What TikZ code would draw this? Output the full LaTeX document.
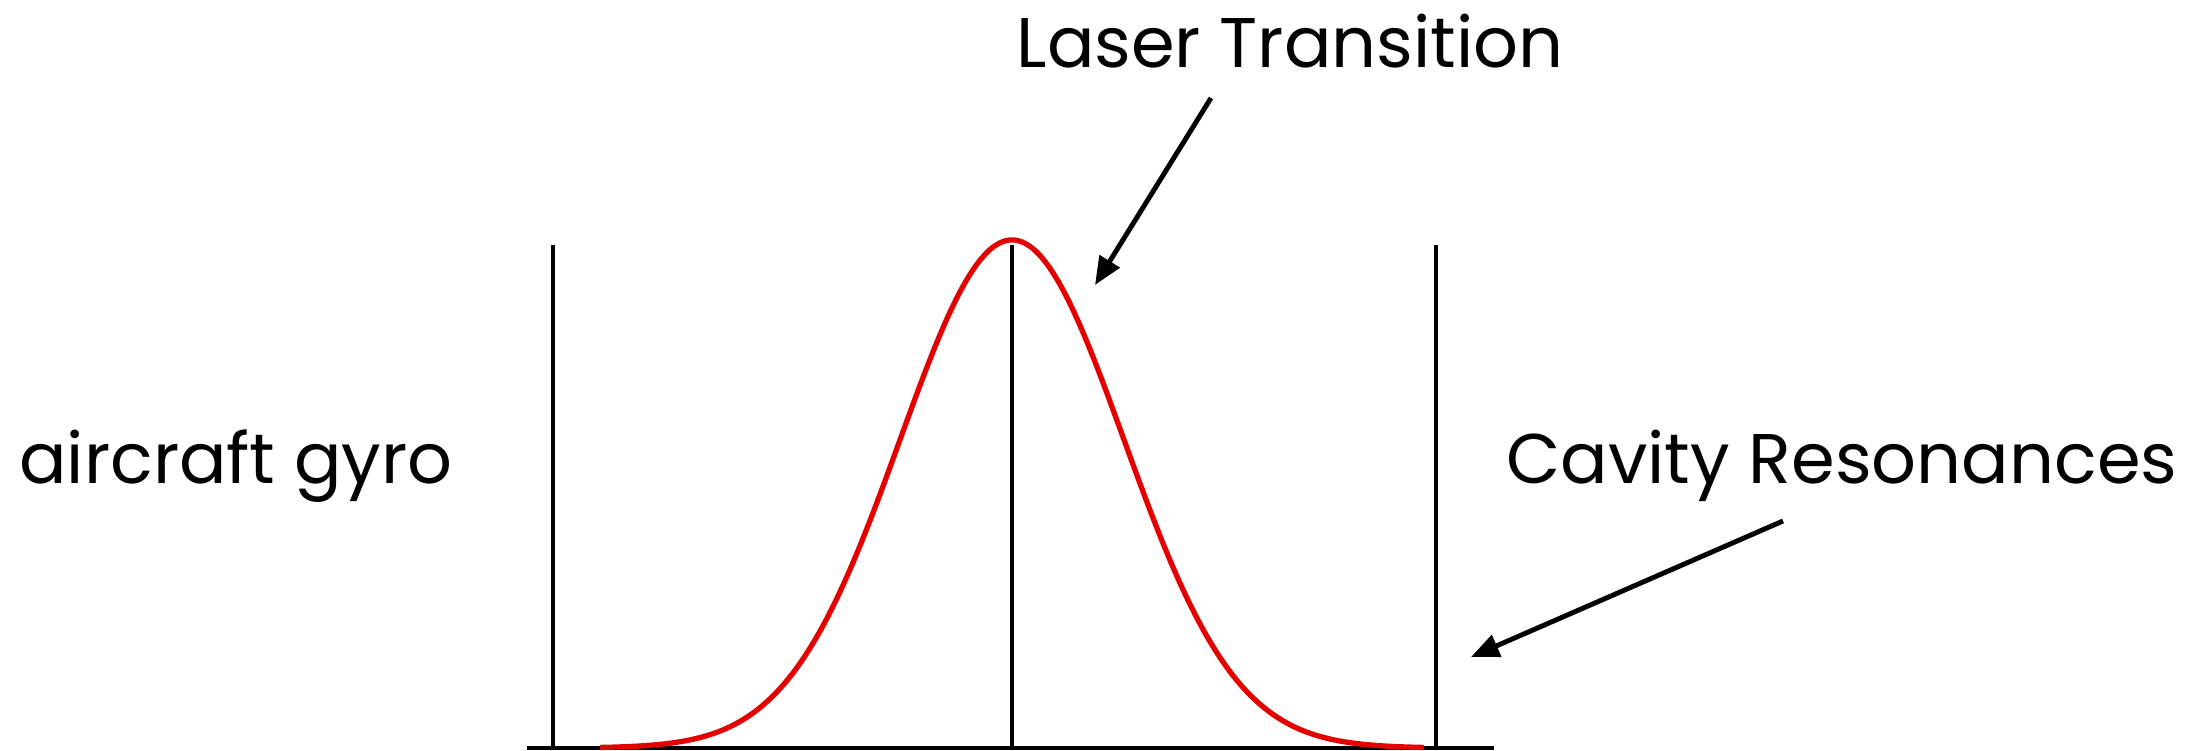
\documentclass[tikz,border=0pt]{standalone}
\usepackage{fontspec}
\setmainfont{Poppins}
\usetikzlibrary{arrows.meta}
\tikzset{
    label/.style={font=\fontsize{20}{24}\selectfont, inner sep=0pt, anchor=base},
    pointer/.style={-{Triangle[length=2.8mm, width=2.3mm]}, line width=1.4pt},
    resonance/.style={line width=1.2pt},
    gain/.style={red!90!black, line width=1.5pt, smooth},
}

\begin{document}
\begin{tikzpicture}
\useasboundingbox (0,0) rectangle (21.93,7.50);

\node[label] (laser) at (12.90,6.82) {Laser Transition};
\node[label] (gyro) at (2.36,2.67) {aircraft gyro};
\node[label, anchor=base east] (cavity) at (21.78,2.67) {Cavity Resonances};

% axis and cavity modes
\coordinate (axisL) at (5.27,0.02);
\coordinate (axisR) at (14.94,0.02);
\draw[line width=1.3pt] (axisL) -- (axisR);
\foreach \m/\x in {modeA/5.53, modeB/10.12, modeC/14.36}{
    \coordinate (\m) at (\x,0.02);
    \draw[resonance] (\m) -- ++(0,5.03);
}

% gain curve
\draw[gain] plot[domain=6.0:14.24, samples=160] (\x,{0.02+5.08*exp(-((\x-10.12)^2)/(2*1.12^2))});

% arrows
\coordinate (laserTail) at (12.11,6.52);
\coordinate (laserTip) at (10.95,4.65);
\coordinate (cavityTail) at (17.83,2.29);
\coordinate (cavityTip) at (14.71,0.93);
\draw[pointer] (laserTail) -- (laserTip);
\draw[pointer] (cavityTail) -- (cavityTip);
\end{tikzpicture}
\end{document}
